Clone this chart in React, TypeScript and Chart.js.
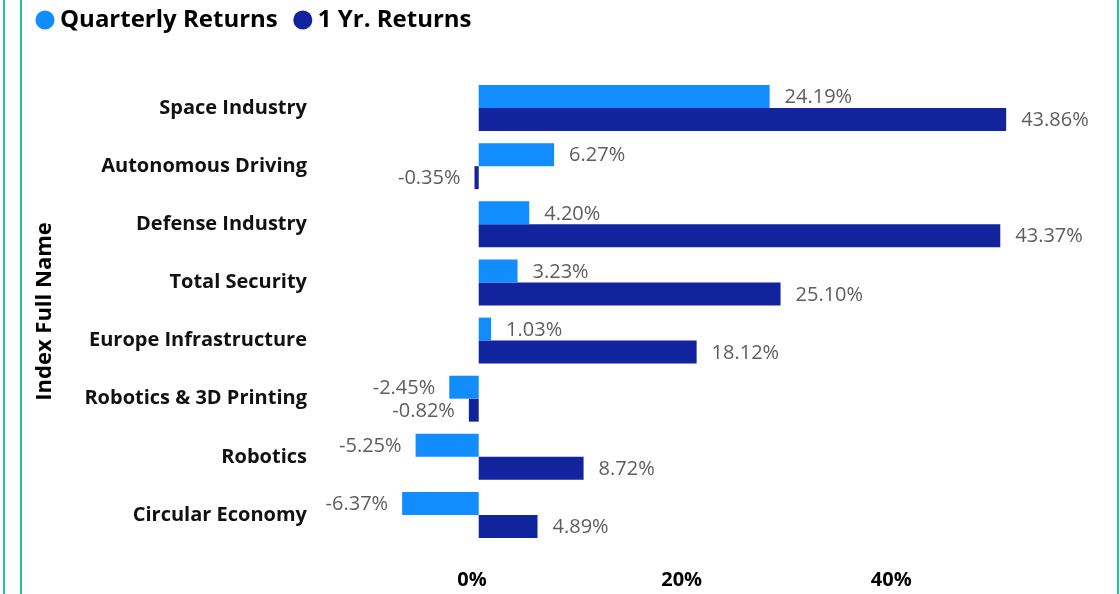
import React, { useEffect, useRef } from "react";
import { Chart, registerables } from "chart.js";

Chart.register(...registerables);

const categories = [
  "Space Industry",
  "Autonomous Driving",
  "Defense Industry",
  "Total Security",
  "Europe Infrastructure",
  "Robotics & 3D Printing",
  "Robotics",
  "Circular Economy",
];
const quarterlyReturns = [24.19, 6.27, 4.2, 3.23, 1.03, -2.45, -5.25, -6.37];
const oneYearReturns = [43.86, -0.35, 43.37, 25.1, 18.12, -0.82, 8.72, 4.89];
const tickValues = [0, 20, 40];

const FONT = "'Open Sans', 'Noto Sans', sans-serif";

const dataLabelPlugin = {
  id: "dataLabels",
  afterDatasetsDraw(chart: any) {
    const ctx = chart.ctx;
    ctx.save();
    ctx.font = `400 20px ${FONT}`;
    ctx.fillStyle = "#605e5c";
    ctx.textBaseline = "middle";
    chart.data.datasets.forEach((ds: any, di: number) => {
      const meta = chart.getDatasetMeta(di);
      meta.data.forEach((bar: any, i: number) => {
        const v = ds.data[i];
        const txt = v.toFixed(2) + "%";
        if (v >= 0) {
          ctx.textAlign = "left";
          ctx.fillText(txt, bar.x + 15, bar.y + 1);
        } else {
          ctx.textAlign = "right";
          ctx.fillText(txt, bar.x - 14, bar.y + 1);
        }
      });
    });
    ctx.restore();
  },
};

const legendMarginPlugin = {
  id: "legendMargin",
  beforeInit(chart: any) {
    const legend = chart.legend;
    if (!legend) return;
    const origFit = legend.fit;
    legend.fit = function () {
      origFit.bind(legend)();
      this.height += 37;
    };
  },
};

export default function App() {
  const ref = useRef<HTMLCanvasElement>(null);

  useEffect(() => {
    if (!ref.current) return;
    const chart = new Chart(ref.current, {
      type: "bar",
      data: {
        labels: categories,
        datasets: [
          {
            label: "Quarterly Returns",
            data: quarterlyReturns,
            backgroundColor: "#118DFF",
            categoryPercentage: 0.79,
            barPercentage: 1.0,
          },
          {
            label: "1 Yr. Returns",
            data: oneYearReturns,
            backgroundColor: "#12239E",
            categoryPercentage: 0.79,
            barPercentage: 1.0,
          },
        ],
      },
      options: {
        indexAxis: "y",
        responsive: false,
        animation: false,
        layout: { padding: { left: 20, right: 40, top: -14, bottom: -22 } },
        plugins: {
          tooltip: { enabled: false },
          legend: {
            position: "top",
            align: "start",
            labels: {
              usePointStyle: true,
              pointStyle: "circle",
              boxWidth: 6,
              boxHeight: 13.5,
              padding: 22,
              color: "#000",
              font: { family: FONT, size: 24, weight: "bold" },
            },
          },
        },
        scales: {
          x: {
            type: "linear",
            min: -13.2,
            max: 50,
            display: false,
            grid: { display: false },
          },
          x2: {
            type: "linear",
            axis: "x",
            position: "bottom",
            min: -14.5,
            max: 58,
            grid: { display: false, drawTicks: false },
            border: { display: false },
            afterBuildTicks: (scale: any) => {
              scale.ticks = tickValues.map((v) => ({ value: v }));
            },
            ticks: {
              padding: 24,
              color: "#000",
              font: { family: FONT, size: 20, weight: "bold" },
              callback: (v: any) => v + "%",
            },
          },
          y: {
            type: "category",
            grid: { display: false, drawTicks: false },
            border: { display: false },
            ticks: {
              padding: 13,
              color: "#111",
              font: { family: FONT, size: 20, weight: "bold" },
            },
            title: {
              display: true,
              text: "Index Full Name",
              color: "#000",
              font: { family: FONT, size: 22, weight: "bold" },
              padding: { top: 12, bottom: 13 },
            },
          },
        },
      },
      plugins: [dataLabelPlugin, legendMarginPlugin],
    } as any);
    return () => chart.destroy();
  }, []);

  const line = (left: number): React.CSSProperties => ({
    position: "absolute",
    left,
    top: 0,
    width: 2,
    height: 594,
    background: "#21c88a",
  });

  return (
    <div
      style={{
        position: "fixed",
        left: 0,
        top: 0,
        width: 1120,
        height: 594,
        background: "#fff",
        overflow: "hidden",
      }}
    >
      <canvas ref={ref} width={1120} height={594} style={{ display: "block" }} />
      <div style={line(3)} />
      <div style={line(20)} />
      <div style={line(1117)} />
    </div>
  );
}
